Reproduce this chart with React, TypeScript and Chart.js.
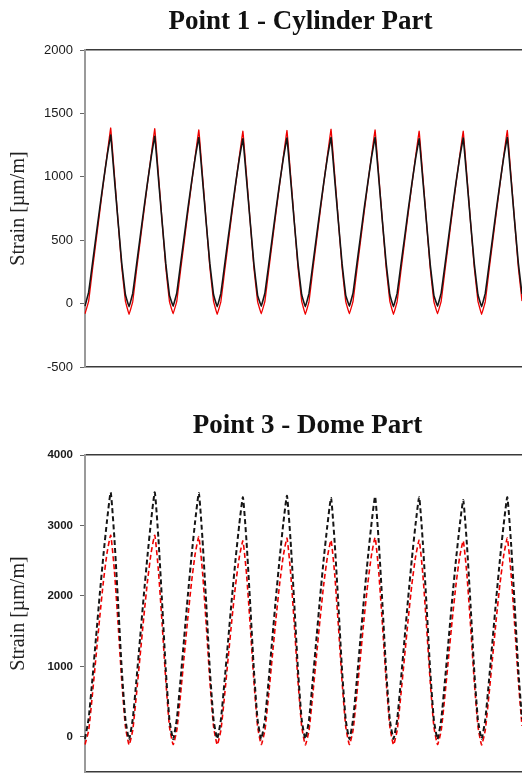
import React, { useEffect, useRef } from "react";
import { Chart, registerables } from "chart.js";

Chart.register(...registerables);

// ---------- DATA ----------
const cylinderTitle = "Point 1 - Cylinder Part";
const domeTitle = "Point 3 - Dome Part";
const yAxisTitle = "Strain [µm/m]";

const cylinderTicks = [-500, 0, 500, 1000, 1500, 2000];
const domeTicks = [0, 1000, 2000, 3000, 4000];

// Point 1 (cylinder) – black curve
const cylinderBlack = [
  -20, 90, 310, 530, 750, 960, 1160, 1330, 990, 650, 320, 70,
  -25, 80, 300, 520, 740, 950, 1150, 1320, 985, 645, 315, 65,
  -20, 85, 305, 525, 745, 955, 1150, 1310, 980, 640, 315, 70,
  -25, 80, 300, 520, 735, 945, 1140, 1300, 975, 640, 310, 65,
  -20, 85, 300, 520, 740, 950, 1145, 1305, 980, 640, 315, 70,
  -25, 80, 300, 520, 740, 950, 1150, 1310, 980, 645, 315, 65,
  -20, 85, 305, 525, 745, 950, 1150, 1310, 985, 645, 320, 70,
  -25, 80, 300, 515, 735, 945, 1140, 1300, 975, 640, 310, 65,
  -20, 85, 300, 520, 740, 950, 1145, 1305, 980, 640, 315, 70,
  -25, 80, 300, 520, 740, 950, 1150, 1310, 985, 645, 320, 75,
];

// Point 1 (cylinder) – red curve
const cylinderRed = [
  -80, 20, 260, 490, 720, 950, 1170, 1385, 1020, 650, 290, 20,
  -85, 15, 255, 485, 715, 945, 1165, 1380, 1015, 650, 285, 15,
  -80, 20, 255, 485, 715, 940, 1160, 1370, 1010, 645, 285, 20,
  -85, 15, 250, 480, 710, 935, 1155, 1360, 1005, 640, 280, 15,
  -80, 20, 255, 485, 715, 940, 1155, 1365, 1010, 645, 285, 20,
  -85, 15, 255, 485, 715, 945, 1165, 1375, 1015, 650, 285, 15,
  -80, 20, 255, 485, 715, 945, 1160, 1370, 1010, 645, 285, 20,
  -85, 15, 250, 480, 710, 935, 1155, 1360, 1005, 640, 280, 15,
  -80, 20, 255, 485, 715, 940, 1155, 1360, 1005, 640, 285, 20,
  -85, 15, 255, 485, 715, 940, 1160, 1365, 1010, 645, 285, 20,
];

// Point 3 (dome) – black dashed curve
const domeBlack = [
  -30, 260, 810, 1410, 2010, 2570, 3070, 3470, 2820, 1910, 960, 250,
  -40, 250, 800, 1400, 2000, 2560, 3070, 3470, 2810, 1900, 950, 240,
  -35, 250, 800, 1400, 2000, 2560, 3060, 3460, 2800, 1900, 950, 245,
  -30, 240, 790, 1380, 1970, 2520, 3010, 3400, 2760, 1870, 940, 240,
  -35, 245, 795, 1390, 1980, 2530, 3030, 3420, 2770, 1880, 945, 245,
  -30, 240, 790, 1380, 1970, 2520, 3000, 3390, 2750, 1870, 940, 240,
  -35, 245, 795, 1385, 1975, 2525, 3020, 3410, 2760, 1875, 945, 245,
  -30, 240, 790, 1380, 1970, 2520, 3010, 3400, 2755, 1870, 940, 240,
  -35, 240, 785, 1370, 1955, 2500, 2980, 3360, 2730, 1860, 935, 240,
  -30, 245, 790, 1380, 1970, 2520, 3010, 3400, 2760, 1875, 945, 250,
];

// Point 3 (dome) – red dashed curve
const domeRed = [
  -110, 90, 590, 1140, 1690, 2200, 2610, 2860, 2360, 1610, 800, 150,
  -115, 95, 595, 1145, 1695, 2200, 2610, 2860, 2355, 1605, 800, 145,
  -110, 95, 590, 1140, 1685, 2190, 2595, 2840, 2340, 1600, 795, 150,
  -115, 90, 580, 1125, 1665, 2155, 2545, 2780, 2300, 1570, 785, 145,
  -110, 95, 590, 1135, 1675, 2170, 2570, 2820, 2325, 1590, 790, 150,
  -115, 90, 585, 1130, 1665, 2160, 2550, 2790, 2305, 1575, 785, 145,
  -110, 95, 590, 1135, 1680, 2175, 2575, 2830, 2330, 1590, 795, 150,
  -115, 90, 585, 1125, 1665, 2160, 2550, 2790, 2305, 1575, 785, 145,
  -110, 90, 580, 1125, 1660, 2150, 2545, 2780, 2300, 1570, 785, 150,
  -115, 95, 590, 1135, 1675, 2170, 2570, 2820, 2325, 1590, 795, 155,
];

const sampleLabels = cylinderBlack.map((_, i) => String(i));

// ---------- CHART ----------
type Cfg = {
  title: string;
  titleBaseline: number;
  titleShift: number;
  black: number[];
  red: number[];
  ticks: number[];
  min: number;
  max: number;
  padTop: number;
  padBottom: number;
  dashed: boolean;
  tickFont: any;
};

function StrainChart({ cfg, top, height }: { cfg: Cfg; top: number; height: number }) {
  const ref = useRef<HTMLCanvasElement | null>(null);
  useEffect(() => {
    if (!ref.current) return;
    const titlePlugin = {
      id: "customTitle",
      afterDraw(chart: any) {
        const { ctx, chartArea } = chart;
        ctx.save();
        ctx.font = 'bold 27px "Liberation Serif", "Times New Roman", serif';
        ctx.fillStyle = "#111";
        ctx.textAlign = "center";
        ctx.textBaseline = "alphabetic";
        ctx.fillText(cfg.title, (chartArea.left + chartArea.right) / 2 + cfg.titleShift, cfg.titleBaseline);
        ctx.restore();
      },
    };
    const hiddenX = (position: string) => ({
      type: "category" as const,
      position,
      offset: false,
      labels: sampleLabels,
      ticks: { display: false },
      grid: { display: false, drawTicks: false },
      border: { display: true, color: "#3a3a3a", width: 1.5 },
      afterFit: (s: any) => {
        s.height = 0;
        s.paddingLeft = 0;
        s.paddingRight = 0;
      },
    });
    const chart = new Chart(ref.current, {
      type: "line",
      data: {
        labels: sampleLabels,
        datasets: [
          {
            label: "black",
            data: cfg.black,
            borderColor: "#151515",
            borderWidth: cfg.dashed ? 2 : 1.6,
            borderDash: cfg.dashed ? [5, 3] : [],
            pointRadius: 0,
            tension: cfg.dashed ? 0.15 : 0.05,
            order: 0,
            xAxisID: "x",
          },
          {
            label: "red",
            data: cfg.red,
            borderColor: "#ee0000",
            borderWidth: cfg.dashed ? 1.6 : 1.3,
            borderDash: cfg.dashed ? [5, 3] : [],
            pointRadius: 0,
            tension: cfg.dashed ? 0.15 : 0.05,
            order: 1,
            xAxisID: "x",
          },
        ],
      },
      options: {
        animation: false,
        responsive: false,
        maintainAspectRatio: false,
        events: [],
        layout: { padding: { top: cfg.padTop, bottom: cfg.padBottom, left: 0, right: 0 } },
        plugins: {
          legend: { display: false },
          tooltip: { enabled: false },
          title: { display: false },
        },
        scales: {
          x: hiddenX("bottom") as any,
          x2: hiddenX("top") as any,
          y: {
            min: cfg.min,
            max: cfg.max,
            afterBuildTicks: (s: any) => {
              s.ticks = cfg.ticks.map((v) => ({ value: v }));
            },
            ticks: {
              font: cfg.tickFont,
              color: "#1a1a1a",
              padding: 7,
              callback: (v: any) => String(v),
            },
            grid: {
              drawOnChartArea: false,
              drawTicks: true,
              tickLength: 5,
              tickColor: "#666",
            },
            border: { display: true, color: "#9a9a9a", width: 2 },
            title: {
              display: true,
              text: yAxisTitle,
              font: { family: '"Liberation Serif", "Times New Roman", serif', size: 20 },
              color: "#222",
              padding: { top: 7, bottom: 2 },
            },
            afterFit: (s: any) => {
              s.width = 85;
              s.paddingTop = 0;
              s.paddingBottom = 0;
            },
          },
        },
      },
      plugins: [titlePlugin],
    });
    return () => chart.destroy();
  }, []);
  return (
    <canvas
      ref={ref}
      width={522}
      height={height}
      style={{ position: "absolute", left: 0, top, width: 522, height, display: "block" }}
    />
  );
}

const cylinderCfg: Cfg = {
  title: cylinderTitle,
  titleBaseline: 29,
  titleShift: -3,
  black: cylinderBlack,
  red: cylinderRed,
  ticks: cylinderTicks,
  min: -500,
  max: 2000,
  padTop: 50,
  padBottom: 18,
  dashed: false,
  tickFont: { family: '"Liberation Sans", Arial, sans-serif', size: 13 },
};

const domeCfg: Cfg = {
  title: domeTitle,
  titleBaseline: 43,
  titleShift: 4,
  black: domeBlack,
  red: domeRed,
  ticks: domeTicks,
  min: -500,
  max: 4000,
  padTop: 65,
  padBottom: 3,
  dashed: true,
  tickFont: { family: '"Liberation Sans", Arial, sans-serif', size: 11.5, weight: "bold" },
};

export default function App() {
  return (
    <div style={{ position: "fixed", left: 0, top: 0, width: 522, height: 775, overflow: "hidden", background: "#fff" }}>
      <StrainChart cfg={cylinderCfg} top={0} height={385} />
      <StrainChart cfg={domeCfg} top={390} height={385} />
    </div>
  );
}
